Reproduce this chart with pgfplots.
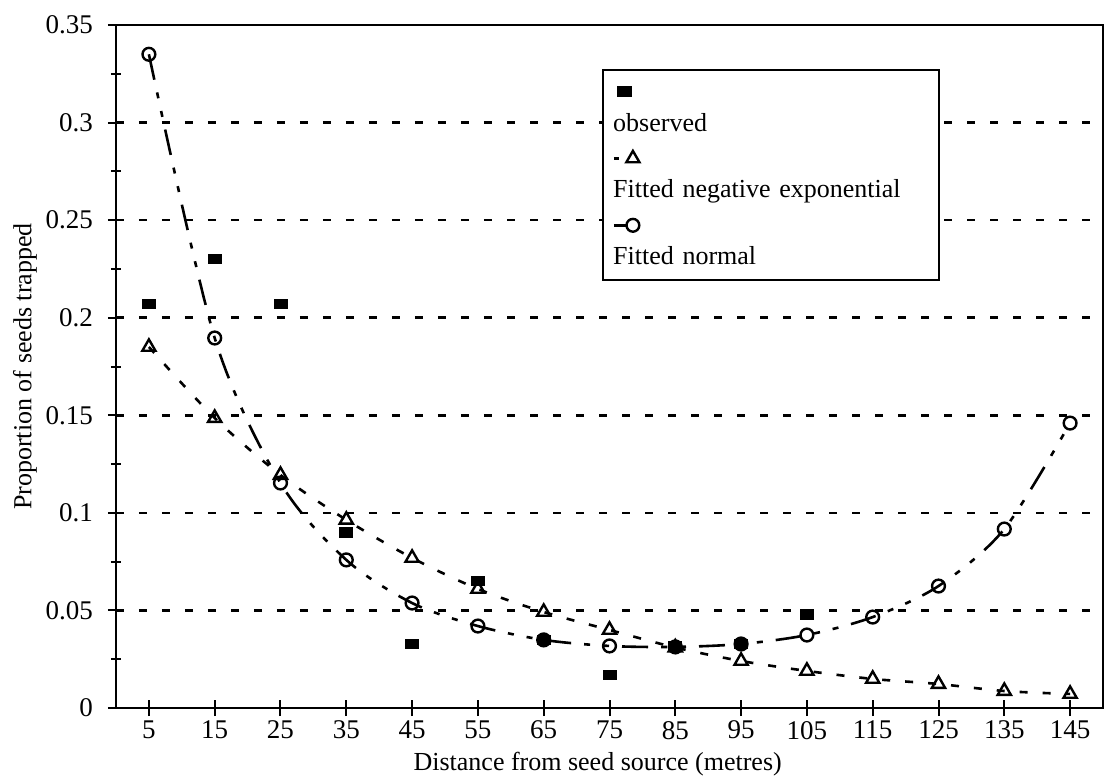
\documentclass[border=0pt]{standalone}
\usepackage{fontspec}
\setmainfont{Liberation Serif}
\usepackage{pgfplots}
\pgfplotsset{compat=1.18}
\begin{document}
\begin{tikzpicture}
\begin{axis}[
  scale only axis,
  width=493.5pt, height=341.5pt,
  xmin=0, xmax=150, ymin=0, ymax=0.35,
  xtick={5,15,25,35,45,55,65,75,85,95,105,115,125,135,145},
  xticklabels={5,15,25,35,45,55,65,75,85,95,105,115,125,135,145},
  ytick={0,0.05,0.1,0.15,0.2,0.25,0.3,0.35},
  yticklabels={0,0.05,0.1,0.15,0.2,0.25,0.3,0.35},
  minor ytick={0.025,0.075,0.125,0.175,0.225,0.275,0.325},
  scaled y ticks=false,
  tick align=center,
  major tick length=8pt, minor tick length=5pt,
  xtick pos=bottom, ytick pos=left,
  ymajorgrids,
  major grid style={line width=1.3pt, dash pattern=on 4pt off 7.5pt, black},
  axis line style={line width=1.4pt},
  every tick/.style={black, line width=1pt},
  every minor tick/.style={black, line width=1pt},
  font=\fontsize{13}{15}\selectfont,
  ticklabel style={font=\fontsize{13.5}{15}\selectfont},
  yticklabel style={xshift=-4pt},
  xticklabel style={yshift=1pt},
  xlabel={Distance from seed source (metres)},
  ylabel={Proportion of seeds trapped},
  every axis x label/.style={at={(axis description cs:0.488,0)}, anchor=center, yshift=-28pt},
  every axis y label/.style={at={(axis description cs:-0.0921,0.5)}, rotate=90, anchor=center},
  legend style={at={(0.492,0.9356)}, anchor=north west, draw=black, line width=1pt,
    inner xsep=2pt, inner ysep=2.5pt, row sep=0pt,
    nodes={inner sep=2pt, text height=9.4pt, text depth=3.3pt, text width=159pt, align=left, anchor=west, font=\fontsize{13}{15}\selectfont}},
  legend cell align=left,
]
\addplot[only marks, mark=square*, mark size=2.7pt, black, mark options={xscale=1.2, yscale=0.85},
  legend image code/.code={\draw[overlay, black] plot[only marks, mark=square*, mark size=2.7pt, mark options={xscale=1.2,yscale=0.85}] coordinates {(8.5pt,0pt)}; \path (0,0);}]
coordinates {(5,0.207)(15,0.230)(25,0.207)(35,0.090)(45,0.033)(55,0.065)(65,0.035)(75,0.017)(85,0.032)(95,0.033)(105,0.048)};
\addlegendentry{}
\addlegendimage{empty legend}
\addlegendentry{observed}
\addplot[smooth, black, line width=1.3pt, dash pattern=on 4pt off 7.5pt, mark=triangle, mark size=3.8pt, mark options={solid, line width=1.2pt},
  legend image code/.code={\draw[overlay, black, line width=1.3pt] (3pt,0pt)--(5.5pt,0pt); \draw[overlay, black] plot[only marks, mark=triangle, mark size=3.8pt, mark options={solid,line width=1.2pt}] coordinates {(12.5pt,0pt)}; \path (0,0);}]
coordinates {(5,0.185)(15,0.1486)(25,0.1194)(35,0.0964)(45,0.0769)(55,0.061)(65,0.0492)(75,0.040)(85,0.031)(95,0.0241)(105,0.019)(115,0.0149)(125,0.0123)(135,0.0087)(145,0.0072)};
\addlegendentry{}
\addlegendimage{empty legend}
\addlegendentry{Fitted negative exponential}
\addplot[smooth, black, line width=1.3pt, dash pattern=on 13pt off 6.5pt on 3pt off 6.5pt on 3pt off 6.5pt, mark=o, mark size=3.2pt, mark options={solid, line width=1.2pt},
  legend image code/.code={\draw[overlay, black, line width=1.3pt] (3pt,0pt)--(10pt,0pt); \draw[overlay, black] plot[only marks, mark=o, mark size=3.2pt, mark options={solid,line width=1.2pt}] coordinates {(12.5pt,0pt)}; \path (0,0);}]
coordinates {(5,0.335)(15,0.1896)(25,0.1153)(35,0.0759)(45,0.0538)(55,0.042)(65,0.0349)(75,0.0318)(85,0.0313)(95,0.0328)(105,0.0374)(115,0.0466)(125,0.0625)(135,0.0917)(145,0.146)};
\addlegendentry{}
\addlegendimage{empty legend}
\addlegendentry{Fitted normal}
\end{axis}
\pgfresetboundingbox
\path ([shift={(-58pt,-37.5pt)}]current axis.south west) rectangle ([shift={(0.5pt,12.5pt)}]current axis.north east);
\end{tikzpicture}
\end{document}
